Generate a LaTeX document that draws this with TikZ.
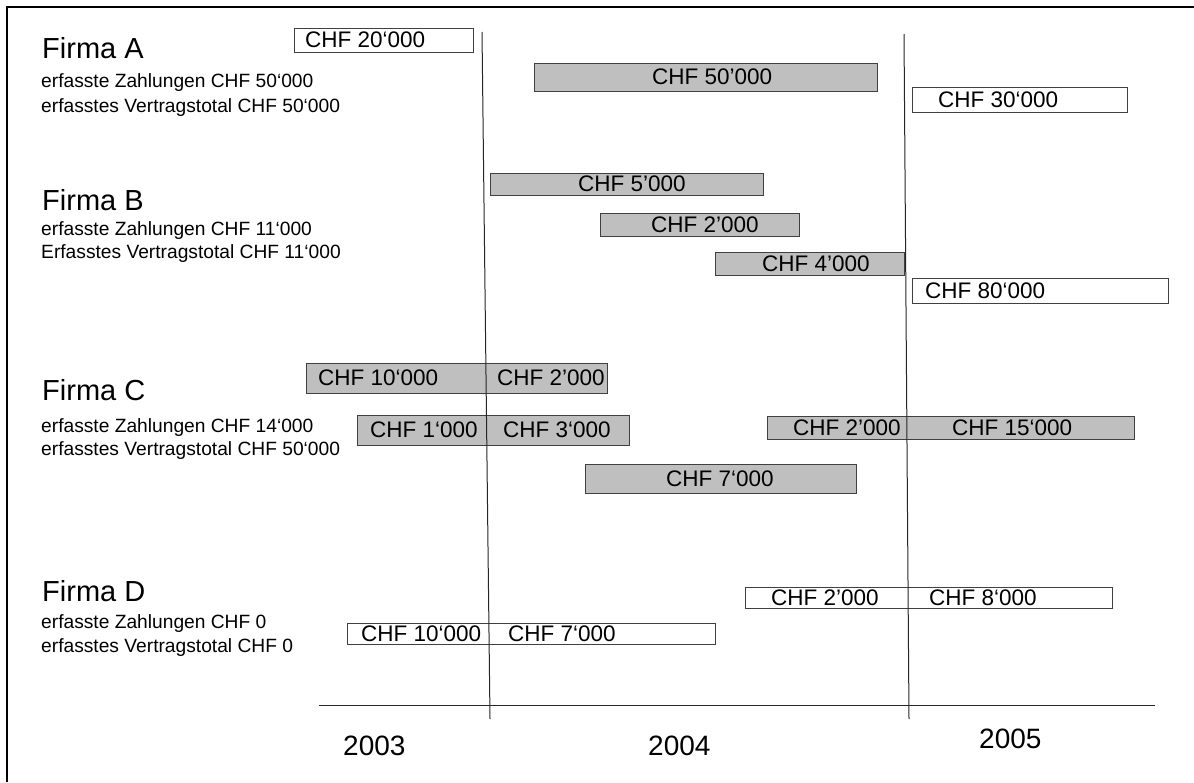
\documentclass[tikz,border=0pt]{standalone}
\usepackage{fontspec}
\setmainfont{Liberation Sans}
\usetikzlibrary{positioning}

\begin{document}
\begin{tikzpicture}[x=1pt,y=-1pt,
bar/.style={draw=black!75,fill=black!25,line width=1.3pt,anchor=north west,inner sep=0pt},
openbar/.style={draw=black!75,fill=white,line width=1.3pt,anchor=north west,inner sep=0pt},
betrag/.style={font=\fontsize{22.5}{26}\selectfont,inner sep=0pt,anchor=west},
firma/.style={font=\fontsize{29}{34}\selectfont,inner sep=0pt,anchor=base west},
info/.style={font=\fontsize{19.2}{23}\selectfont,inner sep=0pt,anchor=base west},
jahr/.style={font=\fontsize{28}{32}\selectfont,inner sep=0pt,anchor=base west},
zeitlinie/.style={draw=black!85,line width=1pt}]
\useasboundingbox (0,0) rectangle (1194,782);
\draw[line width=2.5pt] (7,782) -- (7,7) -- (1194,7);

% Firmen
\node[firma] (fa) at (42,58) {Firma A};
\node[info] (fa1) at (41,87) {erfasste Zahlungen CHF 50‘000};
\node[info] (fa2) at (41,112) {erfasstes Vertragstotal CHF 50‘000};
\node[firma] (fb) at (42,210) {Firma B};
\node[info] (fb1) at (41,235) {erfasste Zahlungen CHF 11‘000};
\node[info] (fb2) at (41,258) {Erfasstes Vertragstotal CHF 11‘000};
\node[firma] (fc) at (42,400) {Firma C};
\node[info] (fc1) at (41,432) {erfasste Zahlungen CHF 14‘000};
\node[info] (fc2) at (41,455) {erfasstes Vertragstotal CHF 50‘000};
\node[firma] (fd) at (42,601) {Firma D};
\node[info] (fd1) at (41,628) {erfasste Zahlungen CHF 0};
\node[info] (fd2) at (41,652) {erfasstes Vertragstotal CHF 0};

% Firma A
\node[openbar,minimum width=179,minimum height=24] (a1) at (294,28) {};
\node[betrag] (a1t) at (305,40) {CHF 20‘000};
\node[bar,minimum width=343,minimum height=28] (a2) at (534,63) {};
\node[betrag] (a2t) at (652,77) {CHF 50’000};
\node[openbar,minimum width=215,minimum height=25] (a3) at (912,87) {};
\node[betrag] (a3t) at (938,100) {CHF 30‘000};

% Firma B
\node[bar,minimum width=273,minimum height=22] (b1) at (490,173) {};
\node[betrag] (b1t) at (578,184) {CHF 5’000};
\node[bar,minimum width=199,minimum height=23] (b2) at (600,213) {};
\node[betrag] (b2t) at (651,225) {CHF 2’000};
\node[bar,minimum width=189,minimum height=23] (b3) at (715,252) {};
\node[betrag] (b3t) at (762,264) {CHF 4’000};
\node[openbar,minimum width=256,minimum height=25] (b4) at (912,278) {};
\node[betrag] (b4t) at (925,291) {CHF 80‘000};

% Firma C
\node[bar,minimum width=301,minimum height=30] (c1) at (306,363) {};
\node[betrag] (c1t) at (318,378) {CHF 10‘000};
\node[betrag] (c1u) at (497,378) {CHF 2’000};
\node[bar,minimum width=272,minimum height=30] (c2) at (357,415) {};
\node[betrag] (c2t) at (370,430) {CHF 1‘000};
\node[betrag] (c2u) at (503,430) {CHF 3‘000};
\node[bar,minimum width=271,minimum height=29] (c3) at (585,464) {};
\node[betrag] (c3t) at (666,479) {CHF 7‘000};
\node[bar,minimum width=367,minimum height=23] (c4) at (767,416) {};
\node[betrag] (c4t) at (793,428) {CHF 2’000};
\node[betrag] (c4u) at (952,428) {CHF 15‘000};

% Firma D
\node[openbar,minimum width=368,minimum height=21] (d1) at (347,623) {};
\node[betrag] (d1t) at (361,634) {CHF 10‘000};
\node[betrag] (d1u) at (508,634) {CHF 7‘000};
\node[openbar,minimum width=367,minimum height=21] (d2) at (745,587) {};
\node[betrag] (d2t) at (771,598) {CHF 2’000};
\node[betrag] (d2u) at (929,598) {CHF 8‘000};

% Zeitachse
\coordinate (s1o) at (482,32);
\coordinate (s1u) at (490,719);
\coordinate (s2o) at (904,34);
\coordinate (s2u) at (909,719);
\coordinate (achsel) at (319,705);
\coordinate (achser) at (1155,705);
\draw[zeitlinie] (s1o) -- (s1u);
\draw[zeitlinie] (s2o) -- (s2u);
\draw[zeitlinie] (achsel) -- (achser);
\node[jahr] (j3) at (343,755) {2003};
\node[jahr] (j4) at (648,755) {2004};
\node[jahr] (j5) at (979,748) {2005};
\end{tikzpicture}
\end{document}
